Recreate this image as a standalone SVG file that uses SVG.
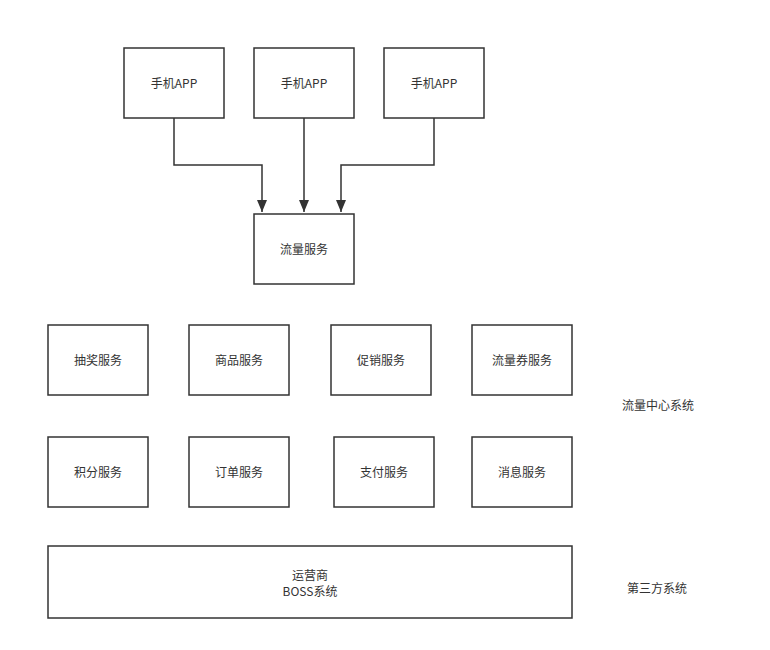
<svg xmlns="http://www.w3.org/2000/svg" width="770" height="650" viewBox="0 0 770 650">
<style>
rect.n{fill:#fff;stroke:#333;stroke-width:1.5}
text{font-family:"Noto Sans CJK SC","Liberation Sans",sans-serif;font-size:12px;fill:#333;text-anchor:middle;dominant-baseline:central}
.e{fill:none;stroke:#333;stroke-width:1.5}
</style>
<defs>
<marker id="a" viewBox="0 0 12 10" refX="12" refY="5" markerWidth="14" markerHeight="10" markerUnits="userSpaceOnUse" orient="auto"><path d="M0,0 L12,5 L0,10 Z" fill="#333"/></marker>
</defs>
<rect width="770" height="650" fill="#fff"/>
<g id="app1"><rect class="n" x="124" y="48" width="100" height="70"/><text x="174" y="82">手机APP</text></g>
<g id="app2"><rect class="n" x="254" y="48" width="100" height="70"/><text x="304" y="82">手机APP</text></g>
<g id="app3"><rect class="n" x="384" y="48" width="100" height="70"/><text x="434" y="82">手机APP</text></g>
<g id="flow"><rect class="n" x="254" y="214" width="100" height="70"/><text x="304" y="248">流量服务</text></g>
<g id="s1"><rect class="n" x="48" y="325" width="100" height="70"/><text x="98" y="359">抽奖服务</text></g>
<g id="s2"><rect class="n" x="189" y="325" width="100" height="70"/><text x="239" y="359">商品服务</text></g>
<g id="s3"><rect class="n" x="331" y="325" width="100" height="70"/><text x="381" y="359">促销服务</text></g>
<g id="s4"><rect class="n" x="472" y="325" width="100" height="70"/><text x="522" y="359">流量券服务</text></g>
<g id="s5"><rect class="n" x="48" y="437" width="100" height="70"/><text x="98" y="471">积分服务</text></g>
<g id="s6"><rect class="n" x="189" y="437" width="100" height="70"/><text x="239" y="471">订单服务</text></g>
<g id="s7"><rect class="n" x="334" y="437" width="100" height="70"/><text x="384" y="471">支付服务</text></g>
<g id="s8"><rect class="n" x="472" y="437" width="100" height="70"/><text x="522" y="471">消息服务</text></g>
<g id="boss"><rect class="n" x="48" y="546" width="524" height="72"/><text x="310" y="574">运营商</text><text x="310" y="590">BOSS系统</text></g>
<g id="lbl1"><text x="658" y="404">流量中心系统</text></g>
<g id="lbl2"><text x="657" y="587">第三方系统</text></g>
<g id="edges">
<path class="e" d="M174,118 V165 H262 V212" marker-end="url(#a)"/>
<path class="e" d="M304,118 V212" marker-end="url(#a)"/>
<path class="e" d="M434,118 V165 H341 V212" marker-end="url(#a)"/>
</g>
</svg>
